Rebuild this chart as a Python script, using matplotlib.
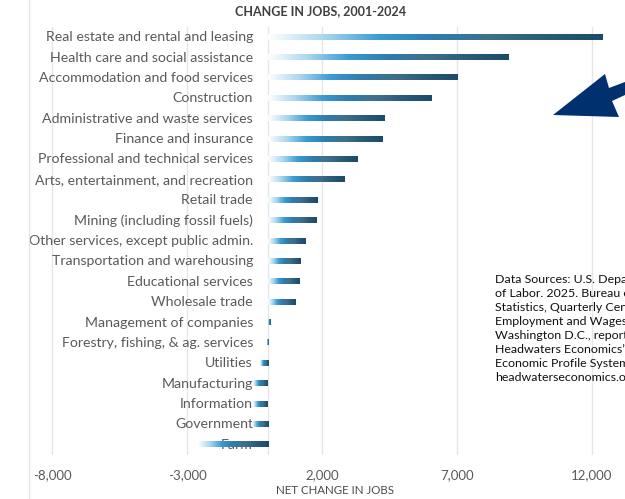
import numpy as np
import matplotlib
matplotlib.use("Agg")
import matplotlib.pyplot as plt
from matplotlib.colors import LinearSegmentedColormap
from matplotlib.patches import Polygon
from matplotlib.lines import Line2D

plt.rcParams['font.family'] = ['Lato', 'DejaVu Sans']

industries = [
    "Real estate and rental and leasing",
    "Health care and social assistance",
    "Accommodation and food services",
    "Construction",
    "Administrative and waste services",
    "Finance and insurance",
    "Professional and technical services",
    "Arts, entertainment, and recreation",
    "Retail trade",
    "Mining (including fossil fuels)",
    "Other services, except public admin.",
    "Transportation and warehousing",
    "Educational services",
    "Wholesale trade",
    "Management of companies",
    "Forestry, fishing, & ag. services",
    "Utilities",
    "Manufacturing",
    "Information",
    "Government",
    "Farm",
]
job_change = [12400, 8900, 7000, 6050, 4300, 4250, 3300, 2850, 1850, 1800,
              1400, 1200, 1150, 1000, 80, -40, -300, -550, -550, -600, -2600]
tick_values = [-8000, -3000, 2000, 7000, 12000]

source_note = ("Data Sources: U.S. Department\n"
               "of Labor. 2025. Bureau of Labor\n"
               "Statistics, Quarterly Census of\n"
               "Employment and Wages,\n"
               "Washington D.C., reported by\n"
               "Headwaters Economics\u2019\n"
               "Economic Profile System,\n"
               "headwaterseconomics.org")

bar_cmap = LinearSegmentedColormap.from_list(
    "jobs", ["#ffffff", "#a9d6ef", "#3a9bd2", "#2f7cab", "#3f6f8d", "#295a79", "#1c4b6a"],
)
gradient = np.linspace(0, 1, 256).reshape(1, -1)

fig = plt.figure(figsize=(6.25, 4.99), dpi=100)
ax = fig.add_axes([30 / 625, 1 - 455 / 499, 595 / 625, 428 / 499])

n = len(industries)

for v in tick_values:
    ax.axvline(v, color="#e6e6e6", lw=1.0, zorder=0)
ax.axvline(0, color="#e6e6e6", lw=1.0, zorder=0)

bar_h = 0.25
for i, (name, val) in enumerate(zip(industries, job_change)):
    ax.text(-560, i, name, ha="right", va="center", fontsize=10.2,
            color="#5a5a5a", zorder=1)
    x0, x1 = min(0, val), max(0, val)
    ax.imshow(gradient, cmap=bar_cmap, aspect="auto", interpolation="bilinear",
              extent=(x0, x1, i + bar_h / 2, i - bar_h / 2), zorder=3)

ax.set_ylim(n - 0.5, -0.5)
ax.set_xlim(-8815, 13222)
ax.set_xticks(tick_values)
ax.set_xticklabels([f"{v:,}" for v in tick_values], fontsize=9.5, color="#5a5a5a")
ax.tick_params(axis="x", length=0, pad=10)
ax.set_yticks([])
for s in ax.spines.values():
    s.set_visible(False)

fig.text(321 / 625, 1 - 11 / 499, "CHANGE IN JOBS, 2001-2024", ha="center", va="center",
         fontsize=9, fontweight="bold", color="#404040")
fig.text(335 / 625, 1 - 490 / 499, "NET CHANGE IN JOBS", ha="center", va="center",
         fontsize=8.3, color="#4a4a4a")

# chart frame edge on the left
fig.add_artist(Line2D([29 / 625, 29 / 625], [0, 1], transform=fig.transFigure,
                      color="#e6e6e6", lw=1.0))

fig.text(495 / 625, 1 - 274 / 499, source_note, ha="left", va="top", fontsize=8.9,
         color="#111111", linespacing=1.34)

# navy pointer arrow
arrow_px = [(553, 115), (605, 74), (609, 88), (625, 82), (625, 95), (612, 101), (619, 117)]
fig.add_artist(Polygon([(x / 625, 1 - y / 499) for x, y in arrow_px], closed=True,
                       transform=fig.transFigure, facecolor="#00306e", edgecolor="none"))

fig.savefig("out.png", dpi=100)
